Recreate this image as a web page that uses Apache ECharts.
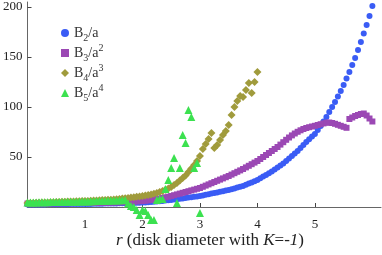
<!DOCTYPE html>
<html><head><meta charset="utf-8">
<script src="https://cdn.jsdelivr.net/npm/echarts@6/dist/echarts.min.js"></script>
<style>html,body{margin:0;padding:0;background:#fff}#c{width:382px;height:255px}</style>
</head><body><div id="c"></div>
<script>
const xStep = 0.05;
const seriesNames = ['B2/a', 'B3/a2', 'B4/a3', 'B5/a4'];
const xTicks = [1, 2, 3, 4, 5];
const yTicks = [50, 100, 150, 200];
const b2 = [
  2.5,2.5,2.5,2.6,2.6,2.6,2.6,2.7,2.7,2.7,2.7,2.8,2.8,2.8,2.8,2.9,2.9,2.9,3.0,3.0,3.0,
  3.1,3.1,3.2,3.2,3.3,3.3,3.4,3.4,3.5,3.5,3.6,3.7,3.7,3.8,3.9,4.0,4.1,4.2,4.3,4.5,
  4.6,4.8,5.0,5.2,5.5,5.8,6.1,6.4,6.7,7.0,7.4,7.8,8.2,8.6,9.0,9.4,9.8,10.2,10.6,11.0,
  11.6,12.2,12.8,13.4,14.0,14.6,15.2,15.8,16.4,17.0,17.8,18.6,19.4,20.2,21.0,22.2,23.4,24.6,25.8,27.0,
  28.7,30.4,32.1,33.8,35.6,37.6,39.6,41.6,43.6,46,48.5,51,53.5,56,59,62,65,67.7,70.4,73,
  77,81,85.5,90,95,100,105,110.5,116,122,128.5,135,142,149,157,165,173.5,182,191,201
];
const b3 = [
  3.5,3.5,3.5,3.6,3.6,3.6,3.7,3.7,3.7,3.8,3.8,3.8,3.8,3.9,3.9,3.9,3.9,4.0,4.0,4.0,4.0,
  4.1,4.1,4.2,4.2,4.3,4.3,4.4,4.4,4.5,4.5,4.6,4.7,4.8,4.9,5.0,5.2,5.4,5.6,5.8,6.0,
  6.3,6.7,7.1,7.5,8.0,8.5,9.1,9.7,10.3,11,11.8,12.6,13.4,14.2,15,15.8,16.6,17.4,18.2,19,
  20.2,21.4,22.6,23.8,25,26.2,27.4,28.6,29.8,31,32.4,33.8,35.2,36.6,38,39.6,41.2,42.8,44.4,46,
  48,50,52,54,56,58,60,62.4,64.8,67.2,69.5,71.6,73.5,75.2,76.7,78,79,79.8,80.5,81.2,
  82,82.8,83.6,84.3,84.5,84,83.2,82.2,81.2,80.2,79.2,88,89.5,91,92,93,93.5,91.5,88.5,85.5
];
const b4 = [
  4.0,4.0,4.1,4.2,4.3,4.4,4.5,4.6,4.7,4.8,5.0,5.1,5.2,5.3,5.4,5.5,5.6,5.7,5.8,5.9,6.0,
  6.1,6.3,6.4,6.6,6.7,6.9,7.0,7.2,7.3,7.5,7.8,8.1,8.4,8.7,9.0,9.4,9.8,10.2,10.6,11.0,
  11.5,12,12.6,13.2,14,15,16,17.2,18.5,20,22,24,26.5,29,31.5,35,38.5,42,46,51,
  58,63,68,74,59,62,67,72,76,82,92,100,106,111,110,117,124,114,125,135
];
const b5 = [
  4.5,4.5,4.6,4.6,4.7,4.7,4.8,4.8,4.9,4.9,5.0,5.0,5.1,5.1,5.2,5.2,5.3,5.3,5.4,5.4,5.5,
  5.6,5.7,5.8,5.9,6.0,6.1,6.2,6.3,6.4,6.5,6.6,6.7,6.8,6.9,3.5,1,0,-3,-8,-3,
  -4,-8,-13,-13,7,8,8,18,27,39,49,4,39,72,64,97,90,39,44,-6
];

function pairs(vals) { return vals.map((v, i) => [Math.round(i * xStep * 100) / 100, v]); }

const legendLabels = {
  'B2/a': '{m|B}{sub|2}{m|/a}',
  'B3/a2': '{m|B}{sub|3}{m|/a}{sup|2}',
  'B4/a3': '{m|B}{sub|4}{m|/a}{sup|3}',
  'B5/a4': '{m|B}{sub|5}{m|/a}{sup|4}'
};
const serif = 'Liberation Serif';
const chart = echarts.init(document.getElementById('c'), null, {renderer: 'canvas'});
const colors = ['#3a5cf5', '#9b48b4', '#a09b3c', '#3ce150'];
const symbols = ['circle', 'rect', 'diamond', 'triangle'];
const sizes = [6, 6, 8, 8];
const datas = [b2, b3, b4, b5];

chart.setOption({
  animation: false,
  grid: {left: 26, right: 1, top: 2, bottom: 48, containLabel: false},
  legend: {
    orient: 'vertical', left: 56, top: 21,
    itemWidth: 8, itemHeight: 8, itemGap: 0,
    data: seriesNames,
    formatter: n => legendLabels[n],
    textStyle: {
      fontFamily: serif, fontSize: 14, color: '#333',
      rich: {
        m: {fontFamily: serif, fontSize: 14, color: '#333', lineHeight: 20, verticalAlign: 'middle'},
        sub: {fontFamily: serif, fontSize: 10, color: '#333', lineHeight: 10, verticalAlign: 'bottom'},
        sup: {fontFamily: serif, fontSize: 10, color: '#333', lineHeight: 12, verticalAlign: 'top'}
      }
    }
  },
  xAxis: {
    type: 'value', min: 0, max: 6.15,
    axisLine: {onZero: true, lineStyle: {color: '#666', width: 1}},
    axisTick: {inside: true, length: 4, customValues: xTicks, lineStyle: {color: '#444'}},
    axisLabel: {customValues: xTicks, fontFamily: serif, fontSize: 13, color: '#222', margin: 11},
    splitLine: {show: false}
  },
  yAxis: {
    type: 'value', min: 0, max: 205,
    axisLine: {show: true, lineStyle: {color: '#666', width: 1}},
    axisTick: {show: true, inside: true, length: 4, customValues: yTicks, lineStyle: {color: '#444'}},
    axisLabel: {customValues: yTicks, fontFamily: serif, fontSize: 13, color: '#222', margin: 5},
    splitLine: {show: false}
  },
  graphic: [{
    type: 'text', x: 210, y: 241, z: 10,
    style: {
      text: '{i|r} (disk diameter with {i|K}=-{i|1})',
      fontFamily: serif, fontSize: 17, fill: '#222',
      align: 'center', verticalAlign: 'middle',
      rich: {
        n: {fontFamily: serif, fontSize: 17},
        i: {fontFamily: serif, fontStyle: 'italic', fontSize: 17}
      }
    }
  }],
  series: seriesNames.map((n, k) => ({
    name: n, type: 'scatter', clip: false,
    symbol: symbols[k], symbolSize: sizes[k],
    itemStyle: {color: colors[k], opacity: 1},
    data: pairs(datas[k])
  }))
});
</script></body></html>
